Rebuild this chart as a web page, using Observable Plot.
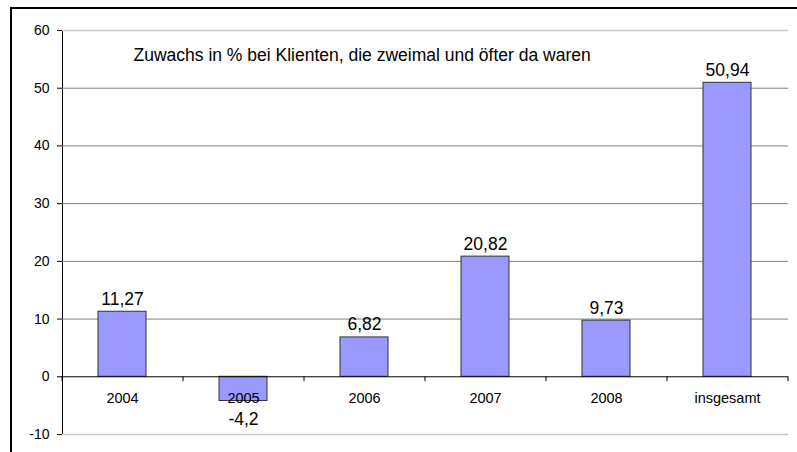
<!DOCTYPE html>
<html>
<head>
<meta charset="utf-8">
<script src="https://cdn.jsdelivr.net/npm/d3@7"></script>
<script src="https://cdn.jsdelivr.net/npm/@observablehq/plot@0.6"></script>
<style>
  html, body { margin: 0; padding: 0; background: #fff; overflow: hidden; }
  #wrap { position: relative; width: 797px; height: 452px; overflow: hidden; }
  #frame { position: absolute; left: 10px; top: 7px; width: 820px; height: 480px; border: 2px solid #000; box-sizing: border-box; pointer-events: none; }
  svg { font-family: "Liberation Sans", Arial, sans-serif; }
</style>
</head>
<body>
<div id="wrap"><div id="frame"></div></div>
<script>
const categories = ["2004", "2005", "2006", "2007", "2008", "insgesamt"];
const values = [11.27, -4.2, 6.82, 20.82, 9.73, 50.94];
const yTicks = [-10, 0, 10, 20, 30, 40, 50, 60];
const gridDark = [10, 20, 30, 40, 50];
const gridLight = [-10, 60];
const title = "Zuwachs in % bei Klienten, die zweimal und öfter da waren";

const data = categories.map((c, i) => ({cat: c, value: values[i], label: String(values[i]).replace(".", ",")}));
const pos = data.filter(d => d.value >= 0);
const neg = data.filter(d => d.value < 0);
const step = (797 - 62 - 9) / categories.length;

const chart = Plot.plot({
  width: 797,
  height: 452,
  marginLeft: 62,
  marginRight: 9,
  marginTop: 30,
  marginBottom: 18,
  style: {fontFamily: "'Liberation Sans', Arial, sans-serif", fontSize: "14px", color: "#000", background: "transparent"},
  x: {domain: categories, paddingInner: 0.6, paddingOuter: 0.3, axis: null},
  y: {domain: [-10, 60], ticks: yTicks, tickFormat: d => String(d), tickSize: 5, tickPadding: 8, line: true, label: null},
  marks: [
    Plot.ruleY(gridDark, {stroke: "#808080", strokeWidth: 1}),
    Plot.ruleY(gridLight, {stroke: "#c8c8c8", strokeWidth: 1.5}),
    Plot.barY(data, {x: "cat", y: "value", fill: "#9999ff", stroke: "#333", strokeWidth: 1}),
    Plot.ruleY([0], {stroke: "#000", strokeWidth: 1}),
    Plot.ruleX(categories, {x: d => d, y1: 0, y2: -0.85, dx: -step / 2, stroke: "#000"}),
    Plot.ruleX(categories.slice(-1), {x: d => d, y1: 0, y2: -0.85, dx: step / 2, stroke: "#000"}),
    Plot.text(data, {x: "cat", y: 0, text: "cat", dy: 22, fontSize: 14.5, fill: "#000"}),
    Plot.text(pos, {x: "cat", y: "value", text: "label", lineAnchor: "bottom", dy: -7, fontSize: 17.5, fill: "#000"}),
    Plot.text(neg, {x: "cat", y: "value", text: "label", lineAnchor: "top", dy: 12, fontSize: 17.5, fill: "#000"}),
    Plot.text([title], {frameAnchor: "top-left", text: d => d, dx: 71, dy: 18, lineAnchor: "top", textAnchor: "start", fontSize: 17.5, fill: "#000"})
  ]
});
document.getElementById("wrap").prepend(chart);
</script>
</body>
</html>
